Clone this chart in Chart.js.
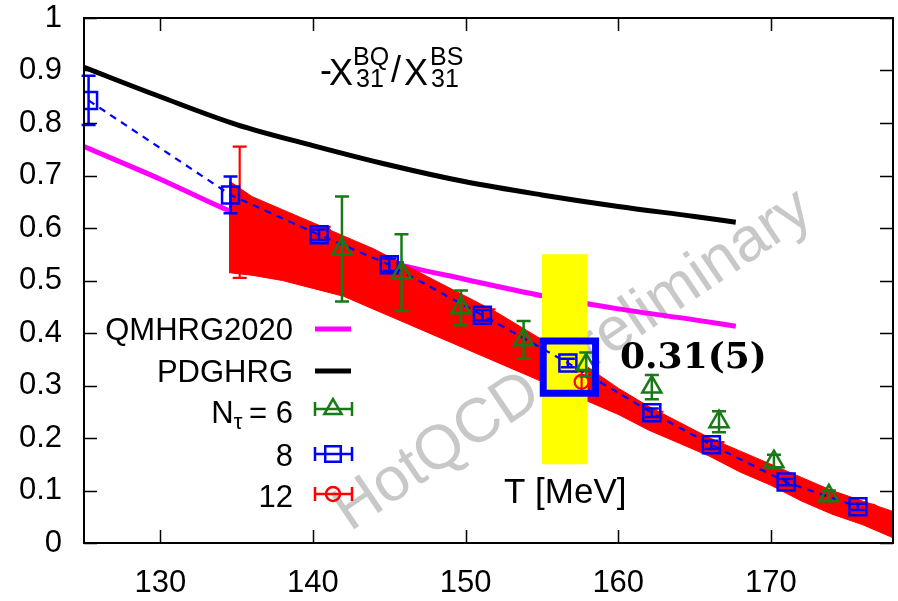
<!DOCTYPE html>
<html>
<head>
<meta charset="utf-8">
<script src="https://cdn.jsdelivr.net/npm/chart.js@4.4.0/dist/chart.umd.min.js"></script>
<style>
  html, body { margin: 0; background: #fff; }
  #wrap { width: 898px; height: 601px; position: relative; }
</style>
</head>
<body>
<div id="wrap"><canvas id="chart"></canvas></div>
<script>
// HRG curves
const tHrg = [125, 130, 135, 140, 145, 150, 155, 160, 165, 167.7];
const pdgHrg = [0.906, 0.85, 0.797, 0.757, 0.72, 0.688, 0.663, 0.641, 0.622, 0.611];
const qmHrg = [0.755, 0.693, 0.627, 0.58, 0.535, 0.502, 0.471, 0.446, 0.425, 0.413];

// continuum band
const tBand = [134.5, 136, 138, 140, 142, 144, 146, 148, 150, 152, 154, 156, 158, 160, 162, 164, 166, 168, 170, 172, 174, 176, 178];
const bandHi = [0.69, 0.66, 0.635, 0.61, 0.585, 0.56, 0.53, 0.5, 0.47, 0.44, 0.405, 0.37, 0.335, 0.295, 0.26, 0.23, 0.2, 0.175, 0.15, 0.125, 0.1, 0.08, 0.06];
const bandLo = [0.515, 0.51, 0.5, 0.485, 0.47, 0.445, 0.42, 0.395, 0.37, 0.345, 0.32, 0.295, 0.27, 0.245, 0.215, 0.19, 0.165, 0.135, 0.11, 0.08, 0.055, 0.035, 0.01];

// lattice data
const tNt6 = [141.9, 145.8, 149.7, 153.8, 157.9, 162.2, 166.6, 170.2, 173.8];
const yNt6 = [0.56, 0.515, 0.448, 0.387, 0.34, 0.297, 0.231, 0.155, 0.09];
const eNt6 = [0.1, 0.073, 0.033, 0.036, 0.023, 0.023, 0.02, 0.013, 0.01];

const tNt8 = [125.3, 134.6, 140.4, 145.0, 151.1, 156.7, 162.2, 166.1, 171.0, 175.7];
const yNt8 = [0.843, 0.663, 0.587, 0.53, 0.434, 0.343, 0.248, 0.187, 0.116, 0.069];
const eNt8 = [0.047, 0.035, 0.01, 0.012, 0.01, 0.008, 0.008, 0.008, 0.006, 0.006];

const tNt12 = [135.2, 140.7, 145.5, 151.5, 157.6, 162.5, 166.5, 171.4, 176.6];
const yNt12 = [0.63, 0.59, 0.515, 0.43, 0.307, 0.235, 0.18, 0.11, 0.06];
const eNt12 = [0.125, 0.012, 0.02, 0.015, 0.02, 0.015, 0.012, 0.01, 0.008];

// Tc window and result
const tcRange = [155, 158];
const tcBandY = [0.15, 0.55];
const result = { x: 156.8, y: 0.335 };

const xTicksStep = 10;
const yTicksStep = 0.1;

const GREEN = '#177a17';
const BLUE = '#0000ff';
const RED = '#ff0000';
const MAGENTA = '#ff00ff';
const SANS = '"Liberation Sans", Arial, sans-serif';

const pts = (xs, ys) => xs.map((x, i) => ({ x: x, y: ys[i] }));

// error bars for datasets that carry yErr
const errorBarPlugin = {
  id: 'errorBars',
  afterDatasetDraw(chart, args) {
    const ds = chart.data.datasets[args.index];
    if (!ds.yErr) return;
    const ctx = chart.ctx;
    const xs = chart.scales.x, ys = chart.scales.y;
    ctx.save();
    ctx.strokeStyle = ds.borderColor;
    ctx.lineWidth = ds.errWidth || 2;
    ctx.setLineDash([]);
    ds.data.forEach((p, i) => {
      const px = xs.getPixelForValue(p.x);
      const top = ys.getPixelForValue(p.y + ds.yErr[i]);
      const bot = ys.getPixelForValue(p.y - ds.yErr[i]);
      ctx.beginPath();
      ctx.moveTo(px, top); ctx.lineTo(px, bot);
      ctx.moveTo(px - 7, top); ctx.lineTo(px + 7, top);
      ctx.moveTo(px - 7, bot); ctx.lineTo(px + 7, bot);
      ctx.stroke();
    });
    ctx.restore();
  }
};

// gnuplot-like frame with inward ticks on all sides
const framePlugin = {
  id: 'frame',
  afterDraw(chart) {
    const ctx = chart.ctx;
    const a = chart.chartArea;
    const xs = chart.scales.x, ys = chart.scales.y;
    ctx.save();
    ctx.strokeStyle = '#000';
    ctx.lineWidth = 2;
    ctx.strokeRect(a.left, a.top, a.right - a.left, a.bottom - a.top);
    ctx.lineWidth = 1.5;
    ctx.beginPath();
    xs.ticks.forEach(t => {
      const px = Math.round(xs.getPixelForValue(t.value)) + 0.5;
      ctx.moveTo(px, a.bottom); ctx.lineTo(px, a.bottom - 13);
      ctx.moveTo(px, a.top); ctx.lineTo(px, a.top + 13);
    });
    ys.ticks.forEach(t => {
      const py = Math.round(ys.getPixelForValue(t.value)) + 0.5;
      ctx.moveTo(a.left, py); ctx.lineTo(a.left + 13, py);
      ctx.moveTo(a.right, py); ctx.lineTo(a.right - 13, py);
    });
    ctx.stroke();
    ctx.restore();
  }
};

// watermark under the data
const watermarkPlugin = {
  id: 'watermark',
  beforeDatasetsDraw(chart) {
    const ctx = chart.ctx;
    ctx.save();
    ctx.translate(350, 532);
    ctx.rotate(-34 * Math.PI / 180);
    ctx.fillStyle = '#c8c8c8';
    ctx.font = '62px ' + SANS;
    ctx.textBaseline = 'alphabetic';
    ctx.fillText('HotQCD Preliminary', 0, 0);
    ctx.restore();
  }
};

function legendMarker(ctx, style, color, x, y) {
  ctx.save();
  ctx.strokeStyle = color;
  ctx.fillStyle = 'rgba(0,0,0,0)';
  ctx.lineWidth = 2.5;
  ctx.beginPath();
  ctx.moveTo(315, y); ctx.lineTo(352, y);
  ctx.moveTo(315, y - 7); ctx.lineTo(315, y + 7);
  ctx.moveTo(352, y - 7); ctx.lineTo(352, y + 7);
  ctx.stroke();
  Chart.helpers.drawPoint(ctx, { pointStyle: style.s, radius: style.r, borderWidth: 2.5, rotation: 0 }, x, y);
  ctx.restore();
}

// title, annotation, axis label and legend
const textPlugin = {
  id: 'texts',
  afterDraw(chart) {
    const ctx = chart.ctx;
    ctx.save();
    ctx.fillStyle = '#000';
    ctx.textBaseline = 'alphabetic';
    ctx.textAlign = 'left';

    // title  -chi31^BQ / chi31^BS
    const big = '36px ' + SANS, small = '25px ' + SANS;
    ctx.font = big;
    ctx.fillText('-', 320, 82);
    ctx.fillText('Χ', 329, 85);
    ctx.fillText('/', 391, 82);
    ctx.fillText('Χ', 404, 85);
    ctx.font = small;
    ctx.fillText('31', 356, 87);
    ctx.fillText('BQ', 353, 65);
    ctx.fillText('31', 431, 87);
    ctx.fillText('BS', 430, 65);

    // result annotation
    ctx.font = 'bold 36px "DejaVu Serif", serif';
    ctx.fillText('0.31(5)', 620, 368);

    // axis label placed inside plot like gnuplot
    ctx.font = '35px ' + SANS;
    ctx.fillText('T [MeV]', 504, 503);

    // legend
    ctx.textAlign = 'right';
    ctx.font = '31px ' + SANS;
    ctx.fillText('QMHRG2020', 293, 340);
    ctx.fillText('PDGHRG', 293, 382);
    ctx.fillText('= 6', 293, 423);
    const eqW = ctx.measureText('= 6 ').width;
    ctx.font = '22px ' + SANS;
    ctx.fillText('τ', 293 - eqW + 2, 429);
    const tauW = ctx.measureText('τ').width;
    ctx.font = '31px ' + SANS;
    ctx.fillText('N', 293 - eqW - tauW + 2, 423);
    ctx.fillText('8', 293, 466);
    ctx.fillText('12', 293, 507);

    ctx.lineWidth = 5;
    ctx.strokeStyle = MAGENTA;
    ctx.beginPath(); ctx.moveTo(315, 329); ctx.lineTo(351, 329); ctx.stroke();
    ctx.strokeStyle = '#000';
    ctx.beginPath(); ctx.moveTo(315, 371); ctx.lineTo(351, 371); ctx.stroke();

    legendMarker(ctx, { s: 'triangle', r: 10 }, GREEN, 333, 409);
    legendMarker(ctx, { s: 'rect', r: 11 }, BLUE, 333, 454);
    legendMarker(ctx, { s: 'circle', r: 7 }, RED, 333, 494);
    ctx.restore();
  }
};

const fontTicks = { family: SANS, size: 31 };

new Chart(document.getElementById('chart'), {
  type: 'line',
  data: {
    datasets: [
      {
        label: 'result',
        data: [result],
        showLine: false,
        pointStyle: 'rect',
        pointRadius: 37,
        borderWidth: 7,
        borderColor: BLUE,
        pointBackgroundColor: 'rgba(0,0,0,0)',
        order: 1
      },
      {
        label: 'Nt=6',
        data: pts(tNt6, yNt6),
        yErr: eNt6,
        errWidth: 2.5,
        showLine: false,
        pointStyle: 'triangle',
        pointRadius: 11,
        borderWidth: 2.5,
        borderColor: GREEN,
        pointBackgroundColor: 'rgba(0,0,0,0)',
        order: 2
      },
      {
        label: 'Nt=8',
        data: pts(tNt8, yNt8),
        yErr: eNt8,
        errWidth: 2.5,
        showLine: true,
        borderDash: [7, 6],
        borderWidth: 2.2,
        pointStyle: 'rect',
        pointRadius: 12,
        pointBorderWidth: 2.5,
        borderColor: BLUE,
        pointBorderColor: BLUE,
        pointBackgroundColor: 'rgba(0,0,0,0)',
        order: 3
      },
      {
        label: 'Nt=12',
        data: pts(tNt12, yNt12),
        yErr: eNt12,
        errWidth: 2.2,
        showLine: false,
        pointStyle: 'circle',
        pointRadius: 7,
        borderWidth: 2.2,
        borderColor: RED,
        pointBackgroundColor: 'rgba(0,0,0,0)',
        order: 4
      },
      {
        label: 'PDGHRG',
        data: pts(tHrg, pdgHrg),
        borderColor: '#000',
        borderWidth: 5,
        pointRadius: 0,
        cubicInterpolationMode: 'monotone',
        order: 5
      },
      {
        label: 'tc lo',
        data: pts(tcRange, [tcBandY[0], tcBandY[0]]),
        borderWidth: 0,
        pointRadius: 0,
        borderColor: 'rgba(0,0,0,0)',
        order: 7
      },
      {
        label: 'tc hi',
        data: pts(tcRange, [tcBandY[1], tcBandY[1]]),
        borderWidth: 0,
        pointRadius: 0,
        borderColor: 'rgba(0,0,0,0)',
        backgroundColor: '#ffff00',
        fill: '-1',
        order: 6
      },
      {
        label: 'band lo',
        data: pts(tBand, bandLo),
        borderColor: RED,
        borderWidth: 1,
        pointRadius: 0,
        order: 9
      },
      {
        label: 'band hi',
        data: pts(tBand, bandHi),
        borderColor: RED,
        borderWidth: 1,
        pointRadius: 0,
        backgroundColor: RED,
        fill: '-1',
        order: 8
      },
      {
        label: 'QMHRG2020',
        data: pts(tHrg, qmHrg),
        borderColor: MAGENTA,
        borderWidth: 5,
        pointRadius: 0,
        cubicInterpolationMode: 'monotone',
        order: 10
      }
    ]
  },
  options: {
    responsive: true,
    maintainAspectRatio: false,
    animation: false,
    layout: { autoPadding: false, padding: { top: 18, right: 5, left: 0, bottom: 0 } },
    plugins: {
      legend: { display: false },
      tooltip: { enabled: false }
    },
    scales: {
      x: {
        type: 'linear',
        min: 125,
        max: 178,
        grid: { display: false, drawTicks: false },
        border: { display: false },
        ticks: { stepSize: xTicksStep, includeBounds: false, color: '#000', font: fontTicks, padding: 22, maxRotation: 0 },
        afterFit: s => { s.height = 58; s.paddingLeft = 0; s.paddingRight = 0; }
      },
      y: {
        type: 'linear',
        min: 0,
        max: 1,
        grid: { display: false, drawTicks: false },
        border: { display: false },
        ticks: { stepSize: yTicksStep, color: '#000', font: fontTicks, padding: 22, callback: v => String(+v.toFixed(1)) },
        afterFit: s => { s.width = 84; s.paddingTop = 0; s.paddingBottom = 0; }
      }
    }
  },
  plugins: [errorBarPlugin, framePlugin, watermarkPlugin, textPlugin]
});
</script>
</body>
</html>
